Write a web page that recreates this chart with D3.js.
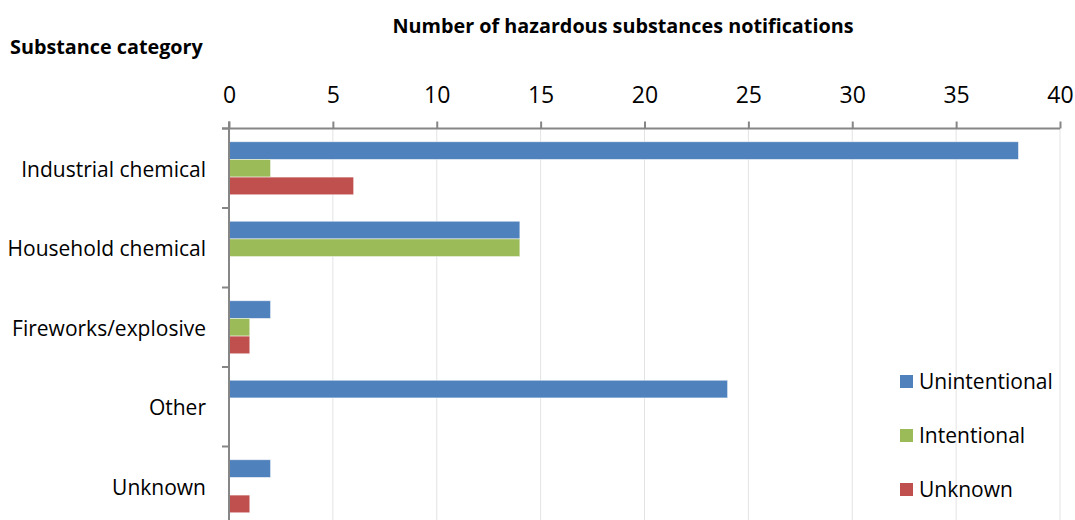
<!DOCTYPE html>
<html>
<head>
<meta charset="utf-8">
<script src="https://cdn.jsdelivr.net/npm/d3@7"></script>
<style>
  body { margin: 0; background: #fff; }
  text { font-family: "Open Sans", sans-serif; fill: #000; }
</style>
</head>
<body>
<svg id="chart" width="1075" height="520"></svg>
<script>
const categories = ['Industrial chemical', 'Household chemical', 'Fireworks/explosive', 'Other', 'Unknown'];
const seriesNames = ['Unintentional', 'Intentional', 'Unknown'];
const unintentional = [38, 14, 2, 24, 2];
const intentional = [2, 14, 1, 0, 0];
const unknown = [6, 0, 1, 0, 1];
const xTicks = [0, 5, 10, 15, 20, 25, 30, 35, 40];

const colors = ['#4f81bd', '#9bbb59', '#c0504d'];
const seriesValues = [unintentional, intentional, unknown];

const svg = d3.select('#chart');

const plotLeft = 229;
const plotRight = 1060;
const plotTop = 128.5;
const bandH = 79.5;

const x = d3.scaleLinear().domain([0, 40]).range([plotLeft, plotRight]);
const y0 = d3.scaleBand().domain(categories).range([plotTop, plotTop + bandH * categories.length]);
const y1 = d3.scaleBand().domain(seriesNames).range([bandH / 6, bandH * 5 / 6]);

// gridlines
svg.append('g')
  .selectAll('line')
  .data(xTicks.slice(1))
  .enter()
  .append('line')
  .attr('x1', (d) => x(d))
  .attr('x2', (d) => x(d))
  .attr('y1', plotTop)
  .attr('y2', 520)
  .attr('stroke', '#e3e3e3')
  .attr('stroke-width', 1);

// bars
const groups = svg.append('g')
  .selectAll('g')
  .data(categories)
  .enter()
  .append('g')
  .attr('transform', (d) => `translate(0,${y0(d)})`);

groups.selectAll('rect')
  .data((d, i) => seriesNames.map((s, j) => ({ s, v: seriesValues[j][i], c: colors[j] })))
  .enter()
  .append('rect')
  .attr('x', x(0))
  .attr('y', (d) => y1(d.s))
  .attr('width', (d) => x(d.v) - x(0))
  .attr('height', y1.bandwidth())
  .attr('fill', (d) => d.c)
  .attr('stroke', (d) => (d.v > 0 ? 'rgba(255,255,255,0.6)' : 'none'))
  .attr('stroke-width', 0.8);

// top axis
const xAxis = svg.append('g')
  .attr('transform', `translate(0,${plotTop})`)
  .call(d3.axisTop(x).tickValues(xTicks).tickSize(7).tickPadding(18.5));
xAxis.select('.domain').attr('stroke', '#868686').attr('stroke-width', 2)
  .attr('d', `M${plotLeft - 7},0H${plotRight}`);
xAxis.selectAll('.tick line').attr('stroke', '#868686').attr('stroke-width', 2);
xAxis.selectAll('.tick text')
  .style('font-family', '"Open Sans", sans-serif')
  .style('font-size', '23px')
  .attr('fill', '#000');

// left axis
const yAxis = svg.append('g')
  .attr('transform', `translate(${plotLeft},0)`)
  .call(d3.axisLeft(y0).tickSize(0).tickPadding(23));
yAxis.select('.domain').attr('stroke', '#868686').attr('stroke-width', 2)
  .attr('d', `M0,${plotTop - 7}V520`);
yAxis.selectAll('.tick text')
  .style('font-family', '"Open Sans", sans-serif')
  .style('font-size', '21px')
  .attr('dy', '0.4em')
  .attr('fill', '#000');

svg.append('g')
  .selectAll('line')
  .data(d3.range(categories.length + 1))
  .enter()
  .append('line')
  .attr('x1', plotLeft - 7)
  .attr('x2', plotLeft)
  .attr('y1', (d) => plotTop + d * bandH)
  .attr('y2', (d) => plotTop + d * bandH)
  .attr('stroke', '#868686')
  .attr('stroke-width', 2);

// titles
svg.append('text')
  .attr('x', 623)
  .attr('y', 33)
  .attr('text-anchor', 'middle')
  .style('font-size', '19.8px')
  .style('font-weight', 'bold')
  .text('Number of hazardous substances notifications');

svg.append('text')
  .attr('x', 10)
  .attr('y', 54)
  .style('font-size', '19.8px')
  .style('font-weight', 'bold')
  .text('Substance category');

// legend
const legend = svg.append('g')
  .selectAll('g')
  .data(seriesNames)
  .enter()
  .append('g')
  .attr('transform', (d, i) => `translate(900,${381 + i * 54})`);

legend.append('rect')
  .attr('x', 0)
  .attr('y', -6)
  .attr('width', 13)
  .attr('height', 13)
  .attr('fill', (d, i) => colors[i]);

legend.append('text')
  .attr('x', 19)
  .attr('y', 0)
  .attr('dy', '0.4em')
  .style('font-size', '21px')
  .text((d) => d);
</script>
</body>
</html>
